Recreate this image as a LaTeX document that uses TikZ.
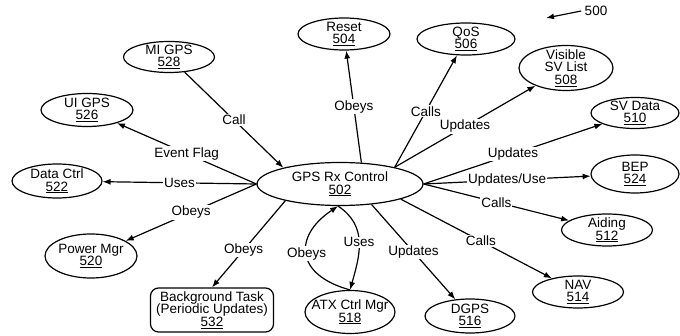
\documentclass[tikz,border=0pt]{standalone}
\usepackage{fontspec}
\setmainfont{Liberation Sans}
\usetikzlibrary{shapes.geometric,arrows.meta}
\begin{document}
\begin{tikzpicture}[x=1pt,y=-1pt,
  every node/.style={font=\fontsize{13.5}{12.5}\selectfont},
  ell/.style={ellipse,draw,line width=1.2pt,inner xsep=-70pt,inner ysep=-30pt,align=center},
  rbox/.style={rectangle,rounded corners=8pt,draw,line width=1.2pt,inner sep=0pt,align=center},
  lbl/.style={fill=white,inner sep=1pt},
  arr/.style={line width=1.2pt,-{Latex[length=8pt,width=6pt]}}]
\useasboundingbox (0,0) rectangle (680,336);
% nodes
\node[ell,minimum width=166pt,minimum height=43pt] (c) at (340,184) {GPS Rx Control\\\underline{502}};
\node[ell,minimum width=92pt,minimum height=32pt] (reset) at (344,34) {Reset\\\underline{504}};
\node[ell,minimum width=98pt,minimum height=32pt] (qos) at (466,39) {QoS\\\underline{506}};
\node[ell,minimum width=94pt,minimum height=45pt,font=\fontsize{13.5}{12.6}\selectfont] (vis) at (566,68) {Visible\\SV List\\\underline{508}};
\node[ell,minimum width=88pt,minimum height=31pt] (svd) at (635,113) {SV Data\\\underline{510}};
\node[ell,minimum width=88pt,minimum height=38pt] (bep) at (635,174) {BEP\\\underline{524}};
\node[ell,minimum width=91pt,minimum height=32pt] (aid) at (607,230) {Aiding\\\underline{512}};
\node[ell,minimum width=91pt,minimum height=32pt] (nav) at (578,292) {NAV\\\underline{514}};
\node[ell,minimum width=90pt,minimum height=34pt] (dgps) at (470,316) {DGPS\\\underline{516}};
\node[ell,minimum width=90pt,minimum height=43pt] (atx) at (350,312) {ATX Ctrl Mgr\\\underline{518}};
\node[rbox,minimum width=123pt,minimum height=44pt,font=\fontsize{13.5}{12.6}\selectfont] (bg) at (212,310) {Background Task\\(Periodic Updates)\\\underline{532}};
\node[ell,minimum width=92pt,minimum height=44pt] (pm) at (91,256) {Power Mgr\\\underline{520}};
\node[ell,minimum width=90pt,minimum height=34pt] (dc) at (57,181) {Data Ctrl\\\underline{522}};
\node[ell,minimum width=92pt,minimum height=33pt] (ui) at (87,110) {UI GPS\\\underline{526}};
\node[ell,minimum width=91pt,minimum height=31pt] (mi) at (169,57) {MI GPS\\\underline{528}};
\node (n500) at (596,11) {500};
\coordinate (a500) at (546,18);
% connectors
\draw[arr] (n500.west) -- (a500);
\draw[arr] (mi) -- node[lbl]{Call} (c.164);
\draw[arr] (c.west) -- node[lbl]{Event Flag} (ui);
\draw[arr] (c.west) -- node[lbl]{Uses} (dc);
\draw[arr] (c.west) -- node[lbl]{Obeys} (pm);
\draw[arr] (c.197) -- node[lbl,pos=0.57]{Obeys} (bg.north);
\draw[arr] (atx.north) .. controls +(-55,-15) and +(-45,30) .. node[lbl]{Obeys} (c.265);
\draw[arr] (c.265) .. controls +(30,20) and +(10,-35) .. node[lbl]{Uses} (atx.north);
\draw[arr] (c.-33) -- node[lbl]{Updates} (dgps);
\draw[arr] (c.-14) -- node[lbl,pos=0.53]{Calls} (nav);
\draw[arr] (c.east) -- node[lbl]{Calls} (aid);
\draw[arr] (c.east) -- node[lbl]{Updates/Use} (bep);
\draw[arr] (c.east) -- node[lbl]{Updates} (svd);
\draw[arr] (c.17) -- node[lbl]{Updates} (vis);
\draw[arr] (c.17) -- node[lbl]{Calls} (qos);
\draw[arr] (c.45) -- node[lbl]{Obeys} (reset);
\end{tikzpicture}
\end{document}
